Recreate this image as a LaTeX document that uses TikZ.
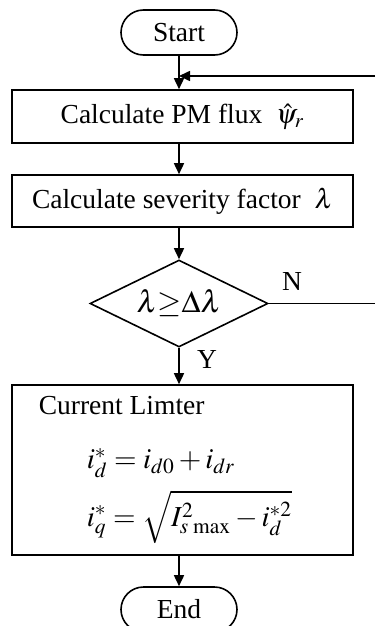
\documentclass[tikz,border=0pt]{standalone}
\usepackage{mathptmx}
\usepackage{fontspec}
\setmainfont{Liberation Serif}
\usetikzlibrary{shapes.misc,shapes.geometric,arrows.meta}
\begin{document}
\begin{tikzpicture}[x=0.5pt,y=-0.5pt,
  line width=0.8pt,
  every node/.style={font=\fontsize{13.75}{16}\selectfont},
  term/.style={draw,rounded rectangle,minimum width=58pt,minimum height=22.5pt,inner sep=0pt},
  proc/.style={draw,rectangle,minimum width=170.5pt,inner sep=0pt},
  decis/.style={draw,diamond,aspect=2.05,minimum width=89pt,minimum height=43.5pt,inner sep=0pt,font=\fontsize{15.5}{18}\selectfont},
  arr/.style={-{Triangle[length=5.5pt,width=5pt]}},
  eqn/.style={anchor=west,inner sep=0pt,font=\fontsize{14.5}{17}\selectfont}]
\useasboundingbox (0,0) rectangle (375,626);
\node[term] (start) at (179,32.5) {Start};
\node[proc,minimum height=26.5pt] (flux) at (182.5,116.5) {Calculate PM flux \ $\hat{\psi}_r$};
\node[proc,minimum height=26pt] (sev) at (182.5,201) {Calculate severity factor \ $\lambda$};
\node[decis] (dec) at (179,303.5) {$\lambda{\geq}\Delta\lambda$};
\node[proc,minimum height=85pt] (lim) at (182.5,470) {};
\node[anchor=west,inner sep=0pt] (limt) at (38,406) {Current Limter};
\node[eqn] (eq1) at (86,463) {$i_d^{*}=i_{d0}+i_{dr}$};
\node[eqn] (eq2) at (86,517) {$i_q^{*}=\sqrt{I_{s\,\max}^{2}-i_d^{*2}}$};
\node[term] (end) at (179,609.5) {End};
\node (nlab) at (292,281) {N};
\node (ylab) at (207,359) {Y};
\coordinate (fb) at (375,76);
\coordinate (nend) at (375,303.5);
\draw[arr] (start) -- (start |- flux.north);
\draw[arr] (fb) -- (start |- fb);
\draw[arr] (dec |- flux.south) -- (dec |- sev.north);
\draw[arr] (dec |- sev.south) -- (dec.north);
\draw (dec.east) -- (nend);
\draw[arr] (dec.south) -- (dec |- lim.north);
\draw[arr] (dec |- lim.south) -- (end.north);
\end{tikzpicture}
\end{document}
